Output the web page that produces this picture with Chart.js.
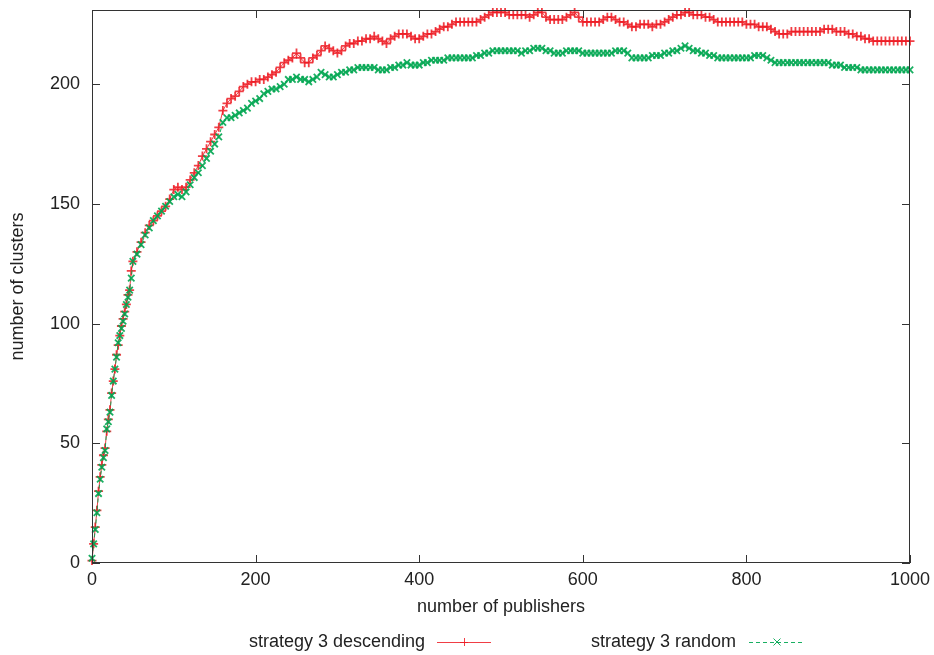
<!DOCTYPE html>
<html>
<head>
<meta charset="utf-8">
<script src="https://cdn.jsdelivr.net/npm/chart.js@4/dist/chart.umd.min.js"></script>
<style>
  html,body{margin:0;padding:0;background:#fff;}
  #wrap{width:934px;height:655px;position:relative;}
</style>
</head>
<body>
<div id="wrap"><canvas id="c" width="934" height="655"></canvas></div>
<script>
// ---- data ----
const publishers = [
  0,2,4,6,8,10,12,14,16,18,20,22,24,26,28,30,32,34,36,38,40,42,44,46,48,50,
  55,60,65,70,75,80,85,90,95,
  100,105,110,115,120,125,130,135,140,145,150,155,160,165,170,175,180,185,190,195,
  200,205,210,215,220,225,230,235,240,245,250,255,260,265,270,275,280,285,290,295,
  300,305,310,315,320,325,330,335,340,345,350,355,360,365,370,375,380,385,390,395,
  400,405,410,415,420,425,430,435,440,445,450,455,460,465,470,475,480,485,490,495,
  500,505,510,515,520,525,530,535,540,545,550,555,560,565,570,575,580,585,590,595,
  600,605,610,615,620,625,630,635,640,645,650,655,660,665,670,675,680,685,690,695,
  700,705,710,715,720,725,730,735,740,745,750,755,760,765,770,775,780,785,790,795,
  800,805,810,815,820,825,830,835,840,845,850,855,860,865,870,875,880,885,890,895,
  900,905,910,915,920,925,930,935,940,945,950,955,960,965,970,975,980,985,990,995,
  1000];
const descending = [
  1,8,15,22,30,36,41,45,48,55,60,64,71,76,81,87,91,95,99,102,105,108,112,114,122,126,
  130,134,138,141,143,145,147,149,152,
  156,157,156,157,160,163,166,170,173,176,179,182,189,192,194,195,197,199,200,201,
  201,202,202,203,204,205,207,209,210,211,213,211,209,209,211,212,214,216,215,214,
  213,214,216,217,217,218,218,219,219,220,219,218,217,219,220,221,221,221,220,219,
  219,220,221,221,222,223,224,224,225,226,226,226,226,226,226,227,228,229,230,230,
  230,230,229,229,229,229,229,228,229,230,230,228,227,227,227,227,228,229,230,228,
  226,226,226,226,226,227,228,228,227,226,226,225,224,224,225,225,225,224,225,225,
  226,227,228,229,229,230,230,229,229,229,228,228,227,226,226,226,226,226,226,226,
  225,225,225,224,224,224,223,222,221,221,221,222,222,222,222,222,222,222,222,223,
  223,223,222,222,222,221,221,220,220,219,219,218,218,218,218,218,218,218,218,218,
  218];
const random = [
  2,8,14,21,29,35,40,44,47,56,59,63,70,76,81,86,92,95,98,101,104,108,111,114,119,126,
  129,133,137,140,143,145,147,149,151,
  153,154,153,155,158,161,163,166,169,172,175,178,184,186,186,187,188,189,190,192,
  193,194,196,197,198,198,199,200,202,202,203,202,202,201,202,203,205,204,203,203,
  204,205,205,206,206,207,207,207,207,207,206,206,206,207,207,208,208,209,208,208,
  208,209,209,210,210,210,210,211,211,211,211,211,211,211,212,212,213,213,214,214,
  214,214,214,214,214,213,214,214,215,215,215,214,214,213,213,213,214,214,214,214,
  213,213,213,213,213,213,213,213,214,214,214,213,211,211,211,211,211,212,212,212,
  213,213,214,214,215,216,215,214,214,213,213,212,212,211,211,211,211,211,211,211,
  211,211,212,212,212,211,210,209,209,209,209,209,209,209,209,209,209,209,209,209,
  209,208,208,208,207,207,207,207,206,206,206,206,206,206,206,206,206,206,206,206,
  206];
const seriesNames = ['strategy 3 descending', 'strategy 3 random'];
const xTicks = [0,200,400,600,800,1000];
const yTicks = [0,50,100,150,200];

const RED = 'rgba(237,28,36,0.85)';
const GREEN = 'rgba(0,166,81,0.9)';
const FONT = '"Liberation Sans", Arial, sans-serif';
const FS = 18;
const TXT = '#222';

const toPts = ys => publishers.map((x,i)=>({x, y: ys[i]}));

const gpTicks = {
  id: 'gpTicks',
  afterDatasetsDraw(chart){
    const {ctx, chartArea:a, scales:{x, y}} = chart;
    ctx.save();
    ctx.strokeStyle = '#333';
    ctx.lineWidth = 1;
    ctx.beginPath();
    x.ticks.forEach(t=>{
      const px = Math.round(x.getPixelForValue(t.value)) + 0.5;
      ctx.moveTo(px, a.bottom); ctx.lineTo(px, a.bottom - 8);
      ctx.moveTo(px, a.top); ctx.lineTo(px, a.top + 8);
    });
    y.ticks.forEach(t=>{
      const py = Math.round(y.getPixelForValue(t.value)) + 0.5;
      ctx.moveTo(a.left, py); ctx.lineTo(a.left + 8, py);
      ctx.moveTo(a.right, py); ctx.lineTo(a.right - 8, py);
    });
    ctx.stroke();
    ctx.strokeRect(Math.round(a.left)+0.5, Math.round(a.top)+0.5, Math.round(a.width)-1, Math.round(a.height)-1);
    ctx.restore();
  }
};

const gpLegend = {
  id: 'gpLegend',
  afterDraw(chart){
    const ctx = chart.ctx;
    const yy = 642;
    const items = [
      {text: seriesNames[0], right: 425, x0: 437, x1: 491, color: RED, dash: [], mark: 'plus'},
      {text: seriesNames[1], right: 736, x0: 749, x1: 804, color: GREEN, dash: [4,3], mark: 'x'}
    ];
    ctx.save();
    ctx.font = FS + 'px ' + FONT;
    ctx.textAlign = 'right';
    ctx.textBaseline = 'middle';
    items.forEach(it=>{
      ctx.fillStyle = TXT;
      ctx.fillText(it.text, it.right, yy);
      ctx.strokeStyle = it.color;
      ctx.lineWidth = 1;
      ctx.setLineDash(it.dash);
      ctx.beginPath(); ctx.moveTo(it.x0, yy+0.5); ctx.lineTo(it.x1, yy+0.5); ctx.stroke();
      ctx.setLineDash([]);
      const cx = Math.round((it.x0 + it.x1)/2);
      ctx.beginPath();
      if (it.mark === 'plus') {
        ctx.moveTo(cx-4, yy+0.5); ctx.lineTo(cx+4, yy+0.5);
        ctx.moveTo(cx+0.5, yy-4); ctx.lineTo(cx+0.5, yy+4);
      } else {
        ctx.moveTo(cx-3.5, yy-3.5); ctx.lineTo(cx+3.5, yy+3.5);
        ctx.moveTo(cx-3.5, yy+3.5); ctx.lineTo(cx+3.5, yy-3.5);
      }
      ctx.stroke();
    });
    ctx.restore();
  }
};

new Chart(document.getElementById('c'), {
  type: 'line',
  data: {
    datasets: [
      {
        label: seriesNames[0],
        data: toPts(descending),
        borderColor: RED,
        backgroundColor: RED,
        borderWidth: 1,
        pointStyle: 'cross',
        pointRadius: 4.5,
        pointBorderWidth: 1.8,
        pointBorderColor: RED,
        tension: 0,
        fill: false,
        order: 2,
        clip: 8
      },
      {
        label: seriesNames[1],
        data: toPts(random),
        borderColor: GREEN,
        backgroundColor: GREEN,
        borderWidth: 1,
        borderDash: [4,3],
        pointStyle: 'crossRot',
        pointRadius: 4.5,
        pointBorderWidth: 1.8,
        pointBorderColor: GREEN,
        tension: 0,
        fill: false,
        order: 1,
        clip: 8
      }
    ]
  },
  options: {
    responsive: false,
    animation: false,
    events: [],
    layout: { padding: { left: 0, right: 24, top: 10, bottom: 35 } },
    plugins: { legend: { display: false }, tooltip: { enabled: false } },
    scales: {
      x: {
        type: 'linear',
        min: 0, max: 1000,
        grid: { display: false, drawTicks: false },
        border: { display: false },
        afterFit: s => { s.height = 57; s.paddingLeft = 0; s.paddingRight = 0; },
        afterBuildTicks: s => { s.ticks = xTicks.map(v=>({value: v})); },
        ticks: { padding: 6, color: TXT, font: { family: FONT, size: FS }, maxRotation: 0, callback: v => String(v) },
        title: { display: true, text: 'number of publishers', color: TXT, font: { family: FONT, size: FS }, padding: { top: 0, bottom: 2 } }
      },
      y: {
        type: 'linear',
        min: 0, max: 231,
        grid: { display: false, drawTicks: false },
        border: { display: false },
        afterFit: s => { s.width = 92; s.paddingTop = 0; s.paddingBottom = 0; },
        afterBuildTicks: s => { s.ticks = yTicks.map(v=>({value: v})); },
        ticks: { padding: 12, color: TXT, font: { family: FONT, size: FS }, callback: v => String(v) },
        title: { display: true, text: 'number of clusters', color: TXT, font: { family: FONT, size: FS }, padding: { top: 7, bottom: 0 } }
      }
    }
  },
  plugins: [gpTicks, gpLegend]
});
</script>
</body>
</html>
